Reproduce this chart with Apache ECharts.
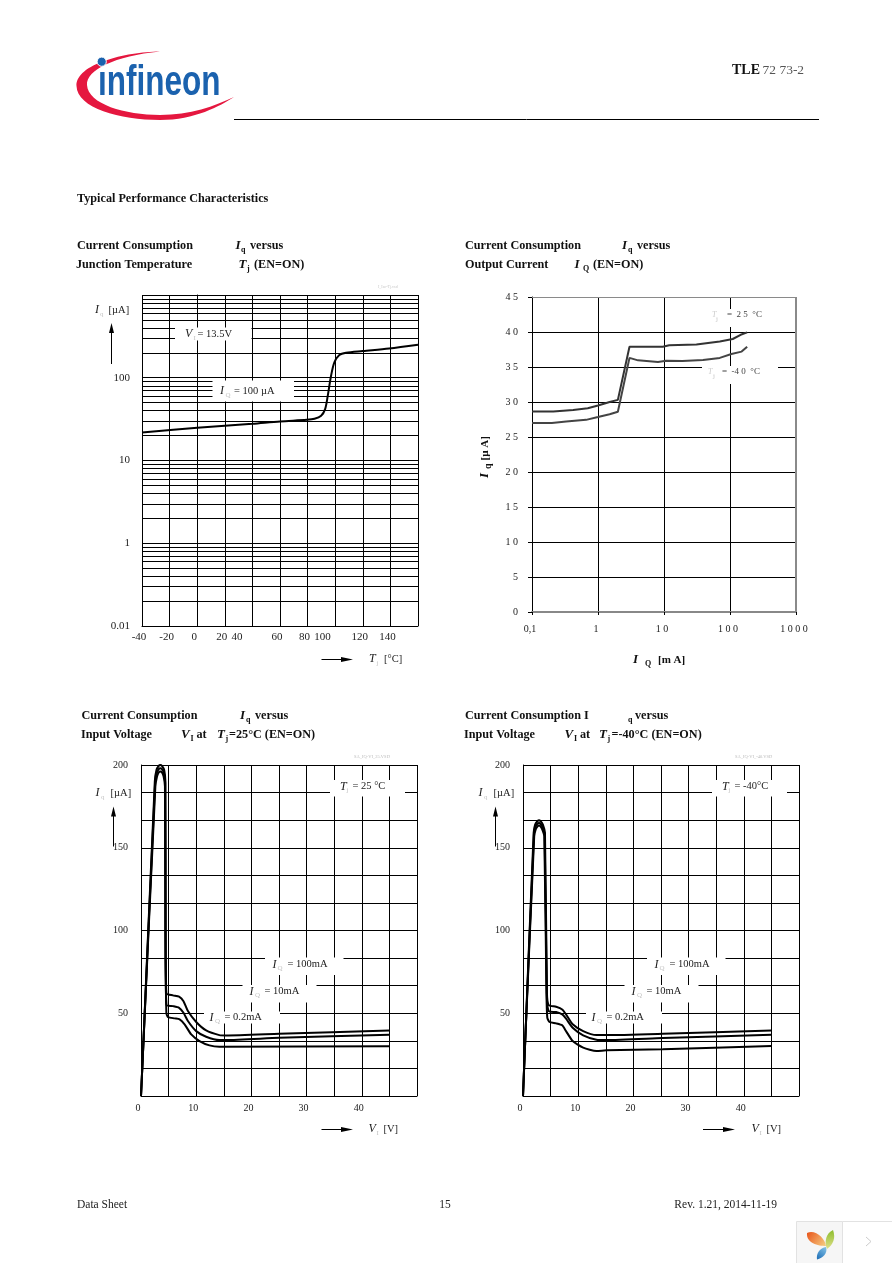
<!DOCTYPE html>
<html>
<head>
<meta charset="utf-8">
<style>
  html, body { margin: 0; padding: 0; background: #fff; }
  #page { width: 892px; height: 1263px; }
</style>
</head>
<body>
<div id="page"></div>
<script src="https://cdn.jsdelivr.net/npm/echarts@6/dist/echarts.min.js"></script>
<script>
// chart 1: Iq vs junction temperature
const tjValues = [-40, 0, 40, 60, 79.4, 85, 89.8, 92.7, 94.6, 97, 99.4, 103, 107.9, 120, 139, 160];
const iqVsTj = [21.8, 24.8, 27.8, 29.7, 31, 31.9, 34.7, 41.8, 60.5, 105.7, 153, 188, 200, 210, 226, 251];
const tjLabelAt = [-40, -20, 0, 20, 31, 60, 80, 93, 120, 140];
const tjLabels = ['-40', '-20', '0', '20', '40', '60', '80', '100', '120', '140'];
const iqLogLabels = ['0.01', '1', '10', '100', ''];

// chart 2: Iq vs output current
const iq25x = [0.1, 0.21, 0.42, 0.7, 1, 1.5, 2, 3, 9.6, 12, 31, 70, 110, 145, 182];
const iq25y = [28.65, 28.65, 28.85, 29.1, 29.5, 30, 30.3, 37.9, 37.9, 38.1, 38.2, 38.65, 39, 39.6, 39.95];
const iqM40x = [0.1, 0.2, 0.33, 0.66, 1, 1.5, 2, 3, 4.04, 8.1, 10.8, 19, 39, 70, 105, 150, 182];
const iqM40y = [27, 27, 27.2, 27.45, 27.85, 28.25, 28.6, 36.3, 35.95, 35.7, 35.9, 35.85, 36, 36.3, 36.85, 37.2, 37.9];
const outXLabels = ['0,1', '1', '1 0', '1 0 0', '1 0 0 0'];
const outYLabels = ['0', '5', '1 0', '1 5', '2 0', '2 5', '3 0', '3 5', '4 0', '4 5'];

// chart 3: Iq vs input voltage at 25 C
const v25High = [0, 0.3, 2.5, 2.8, 3.2, 3.5, 3.8, 4.2, 4.42, 4.46, 4.6, 5.8, 6.9, 7.7, 8.5, 10, 11.8, 14.2, 15.4, 25, 45];
const i25High = [0, 22, 190, 197, 199.5, 200, 199.5, 197, 190, 100, 62, 60.8, 60, 57.3, 51.3, 44.7, 39.6, 36.8, 36.6, 37.6, 39.6];
const v25Mid = [0, 0.3, 2.55, 2.85, 3.2, 3.5, 3.8, 4.15, 4.38, 4.44, 4.6, 5.8, 6.9, 7.7, 8.5, 10, 11.8, 14.2, 15.4, 25, 45];
const i25Mid = [0, 22, 189, 195, 197.5, 198, 197.5, 195, 189, 100, 55, 54.3, 53.3, 50.3, 45.3, 39.2, 35.8, 33.8, 33.8, 35.2, 37];
const v25Low = [0, 0.3, 2.6, 2.9, 3.2, 3.5, 3.8, 4.1, 4.34, 4.42, 4.6, 4.9, 6.1, 7, 7.9, 9.1, 10.6, 12.4, 14.2, 45];
const i25Low = [0, 22, 187, 193, 195.5, 196, 195.5, 193, 187, 100, 50, 47.7, 46.9, 46.3, 43.3, 37.2, 33.2, 30.6, 29.8, 30];

// chart 4: Iq vs input voltage at -40 C
const vM40High = [0, 0.3, 1.93, 2.2, 2.6, 2.9, 3.2, 3.6, 3.98, 4.34, 4.64, 6, 7.1, 7.8, 9, 10.9, 13.3, 15.1, 25.3, 45];
const iM40High = [0, 25, 159, 164, 166, 166.6, 166, 164, 159, 62, 55, 53.9, 52.3, 49.3, 43.3, 39.2, 36.8, 36.8, 37.6, 39.6];
const vM40Mid = [0, 0.3, 1.98, 2.25, 2.6, 2.9, 3.2, 3.55, 3.92, 4.3, 4.64, 6, 7.1, 7.8, 9, 10.9, 13.3, 15.1, 25.3, 45];
const iM40Mid = [0, 25, 158, 162.5, 164.4, 165, 164.4, 162.5, 158, 62, 51.3, 50.7, 49.3, 46.7, 41.2, 36.6, 34, 33.8, 35, 37];
const vM40Low = [0, 0.3, 2.03, 2.3, 2.6, 2.9, 3.2, 3.5, 3.86, 4.25, 4.4, 4.8, 6, 7.1, 7.8, 9, 10.9, 13.3, 15.1, 25.3, 45];
const iM40Low = [0, 25, 157, 161, 162.8, 163.4, 162.8, 161, 157, 62, 47.3, 44.7, 43.9, 42.7, 39.2, 33.2, 29.2, 27.2, 27.6, 28.2, 30.2];
const vinTicks = ['0', '10', '20', '30', '40'];

const SERIF = '"Liberation Serif", "Times New Roman", serif';
const GRID_LINE = { show: true, lineStyle: { color: '#000', width: 1 } };

const zip = (xs, ys) => xs.map((x, i) => [x, ys[i]]);

// logo and viewer icon outlines (graphic component has no plain path type)
echarts.graphic.registerShape('logoSwoosh', echarts.graphic.extendPath('M160 51.5 C125 52 76 64 76.5 86 C77 108 120 120 160 120 C195 120 220 106 234 97 C215 106 190 115 160 115 C125 115 88 104 87 85 C86 70 115 56 160 51.5 Z'));
echarts.graphic.registerShape('leafOrange', echarts.graphic.extendPath('M807 1233 C815 1229 825 1238 826 1246 C818 1246 806 1243 807 1233 Z'));
echarts.graphic.registerShape('leafGreen', echarts.graphic.extendPath('M833 1230 C836 1238 833 1245 827 1249 C824 1242 826 1233 833 1230 Z'));
echarts.graphic.registerShape('leafBlue', echarts.graphic.extendPath('M826 1247 C828 1253 823 1258 817 1259.5 C816 1253 820 1248 826 1247 Z'));

const myChart = echarts.init(document.getElementById('page'));

// ---- page furniture helpers ----
function txt(x, y, text, font, fill, extra) {
  return {
    type: 'text', x: x, y: y, z: 5,
    style: Object.assign({
      text: text, font: font, fill: fill || '#111', verticalAlign: 'middle'
    }, extra || {})
  };
}
const bold = (x, y, s) => txt(x, y, s, 'bold 12.2px ' + SERIF);
const boldI = (x, y, s) => txt(x, y, s, 'italic bold 13px ' + SERIF);
const subB = (x, y, s) => txt(x, y + 4, s, 'bold 8px ' + SERIF);
const norm = (x, y, s) => txt(x, y, s, '10.5px ' + SERIF, '#222');
const ital = (x, y, s) => txt(x, y, s, 'italic 12px ' + SERIF, '#222');
const subG = (x, y, s) => txt(x, y + 4, s, '7px ' + SERIF, '#c4c4c4');
const grayLine = (x1, y1, x2, y2, w) => ({
  type: 'line', z: 2, shape: { x1: x1, y1: y1, x2: x2, y2: y2 }, style: { stroke: '#8a8a8a', lineWidth: w }
});
const whiteBox = (x1, y1, x2, y2) => ({
  type: 'rect', z: 1, shape: { x: x1, y: y1, width: x2 - x1, height: y2 - y1 }, style: { fill: '#fff' }
});
function arrowUp(x, y1, y2) {
  return [
    { type: 'line', z: 5, shape: { x1: x, y1: y1, x2: x, y2: y2 + 6 }, style: { stroke: '#000', lineWidth: 1 } },
    { type: 'polygon', z: 5, shape: { points: [[x, y2], [x - 2.5, y2 + 10], [x + 2.5, y2 + 10]] }, style: { fill: '#000' } }
  ];
}
function arrowRight(x1, x2, y) {
  return [
    { type: 'line', z: 5, shape: { x1: x1, y1: y, x2: x2 - 6, y2: y }, style: { stroke: '#000', lineWidth: 1 } },
    { type: 'polygon', z: 5, shape: { points: [[x2, y], [x2 - 12, y - 2.5], [x2 - 12, y + 2.5]] }, style: { fill: '#000' } }
  ];
}

const graphics = [
  // logo
  { type: 'logoSwoosh', z: 5, style: { fill: '#e5173f' } },
  { type: 'circle', z: 7, shape: { cx: 101.7, cy: 61.7, r: 4.6 }, style: { fill: '#1b62ae', stroke: '#fff', lineWidth: 1 } },
  { type: 'text', z: 6, x: 98, y: 83, scaleX: 0.75, style: { text: '\u0131nfineon', font: 'bold 42px "Liberation Sans Narrow", "Liberation Sans", sans-serif', fill: '#1b62ae', verticalAlign: 'middle' } },
  { type: 'line', z: 5, shape: { x1: 234, y1: 119.5, x2: 819, y2: 119.5 }, style: { stroke: '#000', lineWidth: 1 } },
  txt(732, 70.5, 'TLE', 'bold 14px ' + SERIF), txt(762.5, 70.5, '72 73-2', '13.5px ' + SERIF, '#555'),
  bold(77, 199, 'Typical Performance Characteristics'),

  // titles chart 1
  bold(77, 246, 'Current Consumption'), boldI(235.5, 246, 'I'), subB(241, 246, 'q'), bold(250, 246, 'versus'),
  bold(76, 265, 'Junction Temperature'), boldI(238.5, 265, 'T'), subB(247, 265, 'j'), bold(254, 265, '(EN=ON)'),
  // titles chart 2
  bold(465, 246, 'Current Consumption'), boldI(622, 246, 'I'), subB(628, 246, 'q'), bold(637, 246, 'versus'),
  bold(465, 265, 'Output Current'), boldI(574.5, 265, 'I'), subB(583, 265, 'Q'), bold(593, 265, '(EN=ON)'),
  // titles chart 3
  bold(81.5, 716, 'Current Consumption'), boldI(240, 716, 'I'), subB(246, 716, 'q'), bold(255, 716, 'versus'),
  bold(81, 735, 'Input Voltage'), boldI(181, 735, 'V'), subB(190.5, 735, 'I'), bold(196.5, 735, 'at'),
  boldI(217, 735, 'T'), subB(225.5, 735, 'j'), bold(229, 735, '=25\u00b0C (EN=ON)'),
  // titles chart 4
  bold(465, 716, 'Current Consumption I'), subB(628, 716, 'q'), bold(635, 716, 'versus'),
  bold(464, 735, 'Input Voltage'), boldI(564.5, 735, 'V'), subB(574, 735, 'I'), bold(580, 735, 'at'),
  boldI(599, 735, 'T'), subB(607.5, 735, 'j'), bold(611.5, 735, '=-40\u00b0C (EN=ON)'),

  // chart 1 notes
  whiteBox(175, 327.5, 251.5, 340.5),
  ital(185, 334, 'V'), subG(193.5, 334, 'I'), norm(197.5, 334, '= 13.5V'),
  whiteBox(212.5, 380.5, 294, 401.5),
  ital(220, 391, 'I'), subG(225.5, 391, 'Q'), norm(234, 391, '= 100 \u00b5A'),
  ital(95, 310, 'I'), subG(100, 310, 'q'), norm(108.5, 310, '[\u00b5A]'),
  ...arrowUp(111.5, 364, 323),
  ...arrowRight(321.5, 353, 659.5),
  ital(369, 659, 'T'), subG(376.5, 659, 'j'), norm(384, 659, '[\u00b0C]'),
  txt(378, 287, 'I_Iac-Tj.vsd', '4px ' + SERIF, '#c8c8c8'),

  // chart 2 notes and its gray frame
  grayLine(796, 297, 796, 612, 2),
  grayLine(532, 297.5, 796, 297.5, 1),
  whiteBox(711, 309, 764, 327),
  txt(712, 315, 'T', 'italic 8px ' + SERIF, '#ccc'), subG(716, 315, 'j'),
  txt(727, 315, '=  2 5  \u00b0C', '9px ' + SERIF, '#444'),
  whiteBox(702, 366, 778, 384),
  txt(708, 372, 'T', 'italic 8px ' + SERIF, '#ccc'), subG(713, 372, 'j'),
  txt(722, 372, '=  -4 0  \u00b0C', '9px ' + SERIF, '#444'),
  { type: 'text', z: 5, x: 485, y: 478, rotation: Math.PI / 2, style: { text: 'I', font: 'italic bold 13px ' + SERIF, fill: '#111', align: 'left', verticalAlign: 'middle' } },
  { type: 'text', z: 5, x: 488, y: 469, rotation: Math.PI / 2, style: { text: 'q', font: 'bold 10px ' + SERIF, fill: '#111', align: 'left', verticalAlign: 'middle' } },
  { type: 'text', z: 5, x: 485, y: 460.5, rotation: Math.PI / 2, style: { text: '[\u00b5 A]', font: 'bold 11px ' + SERIF, fill: '#111', align: 'left', verticalAlign: 'middle' } },
  boldI(633, 660, 'I'), subB(645, 660, 'Q'), txt(658, 660, '[m A]', 'bold 11px ' + SERIF),

  // chart 3 axis notes
  ital(95.5, 793, 'I'), subG(101, 793, 'q'), norm(110.5, 793, '[\u00b5A]'),
  ...arrowUp(113.5, 846.5, 806.5),
  ...arrowRight(321.5, 353, 1129.5),
  ital(368.5, 1129, 'V'), subG(376.5, 1129, 'I'), norm(383.5, 1129, '[V]'),
  txt(354, 757, 'SA_IQ-VI_25.VSD', '4.5px ' + SERIF, '#bbb'),
  whiteBox(330, 780, 405, 796.5),
  ital(340, 786.5, 'T'), subG(346.5, 786.5, 'j'), norm(352.5, 786.5, '= 25 \u00b0C'),

  // chart 4 axis notes
  ital(478.5, 793, 'I'), subG(484, 793, 'q'), norm(493.5, 793, '[\u00b5A]'),
  ...arrowUp(495.5, 846.5, 806.5),
  ...arrowRight(703, 735, 1129.5),
  ital(751.5, 1129, 'V'), subG(759.5, 1129, 'I'), norm(766.5, 1129, '[V]'),
  txt(735, 757, 'SA_IQ-VI_-40.VSD', '4.5px ' + SERIF, '#bbb'),
  whiteBox(712, 780, 787, 796.5),
  ital(722, 786.5, 'T'), subG(728.5, 786.5, 'j'), norm(734.5, 786.5, '= -40\u00b0C'),

  // footer
  txt(77, 1205, 'Data Sheet', '11.5px ' + SERIF, '#222'),
  txt(445, 1205, '15', '11.5px ' + SERIF, '#222', { align: 'center' }),
  txt(777, 1205, 'Rev. 1.21, 2014-11-19', '11.5px ' + SERIF, '#222', { align: 'right' }),

  // viewer widget
  { type: 'rect', z: 5, shape: { x: 796.5, y: 1221.5, width: 46, height: 45 }, style: { fill: '#f6f6f6', stroke: '#e2e2e2', lineWidth: 1 } },
  { type: 'rect', z: 5, shape: { x: 842.5, y: 1221.5, width: 55, height: 45 }, style: { fill: '#fff', stroke: '#e2e2e2', lineWidth: 1 } },
  { type: 'leafOrange', z: 6,
    style: { fill: new echarts.graphic.LinearGradient(0, 0, 1, 1, [{ offset: 0, color: '#e8541a' }, { offset: 1, color: '#f6cf83' }]) } },
  { type: 'leafGreen', z: 6,
    style: { fill: new echarts.graphic.LinearGradient(0, 0, 0, 1, [{ offset: 0, color: '#8dbd2d' }, { offset: 1, color: '#dfe08a' }]) } },
  { type: 'leafBlue', z: 6,
    style: { fill: new echarts.graphic.LinearGradient(0, 1, 1, 0, [{ offset: 0, color: '#1c6cb6' }, { offset: 1, color: '#86c5e8' }]) } },
  { type: 'polyline', z: 6, shape: { points: [[866, 1237], [871, 1241.5], [866, 1246]] }, style: { stroke: '#ccc', fill: 'none', lineWidth: 1 } }
];

// the three Iq labels repeat on both input-voltage charts, shifted sideways
[0, 382].forEach((dx) => {
  graphics.push(
    whiteBox(265 + dx, 957.5, 343.5 + dx, 975),
    ital(272.5 + dx, 964.5, 'I'), subG(277.5 + dx, 964.5, 'Q'), norm(287.5 + dx, 964.5, '= 100mA'),
    whiteBox(242.5 + dx, 985, 316.5 + dx, 1002.5),
    ital(249.5 + dx, 991.5, 'I'), subG(255 + dx, 991.5, 'Q'), norm(264.5 + dx, 991.5, '= 10mA'),
    whiteBox(204 + dx, 1011.5, 280 + dx, 1023.5),
    ital(209.5 + dx, 1017.5, 'I'), subG(215 + dx, 1017.5, 'Q'), norm(224.5 + dx, 1017.5, '= 0.2mA')
  );
});

// ---- axes ----
function vinAxis(i) {
  return {
    gridIndex: i, type: 'value', min: 0, max: 50, interval: 5,
    axisLine: { lineStyle: { color: '#000' } }, axisTick: { show: false },
    splitLine: GRID_LINE,
    axisLabel: {
      customValues: [0, 10, 20, 30, 40], margin: 7, padding: [0, 6, 0, 0],
      color: '#222', fontFamily: SERIF, fontSize: 10,
      formatter: (v) => vinTicks[Math.round(v / 10)]
    }
  };
}
function iqAxis(i) {
  return {
    gridIndex: i, type: 'value', min: 0, max: 200, interval: 200 / 12,
    axisLine: { lineStyle: { color: '#000' } }, axisTick: { show: false },
    splitLine: GRID_LINE,
    axisLabel: {
      customValues: [50, 100, 150, 200], margin: 13,
      color: '#222', fontFamily: SERIF, fontSize: 10
    }
  };
}
function curve(x, y, i, width, color, smooth) {
  return {
    type: 'line', xAxisIndex: i, yAxisIndex: i, data: zip(x, y), showSymbol: false, smooth: smooth, z: 3, silent: true,
    lineStyle: { color: color || '#000', width: width || 2 }
  };
}

myChart.setOption({
  animation: false,
  backgroundColor: '#fff',
  textStyle: { fontFamily: SERIF },
  graphic: { elements: graphics },
  grid: [
    { left: 142, top: 295, width: 276, height: 331 },
    { left: 532, top: 297, width: 264, height: 315 },
    { left: 141, top: 765, width: 276, height: 331 },
    { left: 523, top: 765, width: 276, height: 331 }
  ],
  xAxis: [
    {
      gridIndex: 0, type: 'value', min: -40, max: 160, interval: 20,
      axisLine: { lineStyle: { color: '#000' } }, axisTick: { show: false },
      splitLine: GRID_LINE,
      axisLabel: {
        customValues: tjLabelAt, margin: 6, padding: [0, 6, 0, 0], showMinLabel: true,
        color: '#222', fontFamily: SERIF, fontSize: 11,
        formatter: (v) => tjLabels[tjLabelAt.indexOf(v)]
      }
    },
    {
      gridIndex: 1, type: 'log', logBase: 10, min: 0.1, max: 1000,
      axisLine: { lineStyle: { color: '#888', width: 2 } },
      axisTick: { show: true, length: 3, inside: false, lineStyle: { color: '#000' } },
      splitLine: GRID_LINE,
      axisLabel: {
        margin: 12, padding: [0, 4, 0, 0], color: '#222', fontFamily: SERIF, fontSize: 10,
        formatter: (v) => outXLabels[Math.round(Math.log10(v)) + 1]
      }
    },
    vinAxis(2),
    vinAxis(3)
  ],
  yAxis: [
    {
      gridIndex: 0, type: 'log', logBase: 10, min: 0.1, max: 1000,
      axisLine: { show: true, lineStyle: { color: '#000' } }, axisTick: { show: false },
      splitLine: GRID_LINE,
      minorTick: { show: false, splitNumber: 9 },
      minorSplitLine: { show: true, lineStyle: { color: '#000', width: 1 } },
      axisLabel: {
        margin: 12, color: '#222', fontFamily: SERIF, fontSize: 11,
        formatter: (v) => iqLogLabels[Math.round(Math.log10(v)) + 1]
      }
    },
    {
      gridIndex: 1, type: 'value', min: 0, max: 45, interval: 5,
      axisLine: { show: true, lineStyle: { color: '#000' } },
      axisTick: { show: true, length: 4, lineStyle: { color: '#000' } },
      splitLine: GRID_LINE,
      axisLabel: {
        margin: 14, color: '#222', fontFamily: SERIF, fontSize: 10,
        formatter: (v) => outYLabels[v / 5]
      }
    },
    iqAxis(2),
    iqAxis(3)
  ],
  series: [
    curve(tjValues, iqVsTj, 0, 2, '#000', 0.3),
    curve(iq25x, iq25y, 1, 2, '#333', false),
    curve(iqM40x, iqM40y, 1, 2, '#444', false),
    curve(v25High, i25High, 2, 2, '#000', 0.2),
    curve(v25Mid, i25Mid, 2, 2, '#000', 0.2),
    curve(v25Low, i25Low, 2, 2, '#000', 0.2),
    curve(vM40High, iM40High, 3, 2, '#000', 0.2),
    curve(vM40Mid, iM40Mid, 3, 2, '#000', 0.2),
    curve(vM40Low, iM40Low, 3, 2, '#000', 0.2)
  ]
});

window.addEventListener('resize', () => {
  myChart && myChart.resize();
});
</script>
</body>
</html>
